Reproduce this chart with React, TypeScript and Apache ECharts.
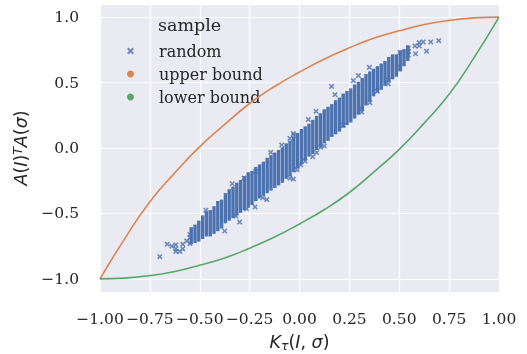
import React, { useEffect, useRef } from "react";
import * as echarts from "echarts";

// Column strips of the "random" sample (Kendall tau value, min and max of A(I)^T A(sigma))
const colT = [
  -0.5429, -0.5238, -0.5048, -0.4857, -0.4667, -0.4476, -0.4286, -0.4095, -0.3905, -0.3714,
  -0.3524, -0.3333, -0.3143, -0.2952, -0.2762, -0.2571, -0.2381, -0.219, -0.2, -0.181,
  -0.1619, -0.1429, -0.1238, -0.1048, -0.0857, -0.0667, -0.0476, -0.0286, -0.0095, 0.0095,
  0.0286, 0.0476, 0.0667, 0.0857, 0.1048, 0.1238, 0.1429, 0.1619, 0.181, 0.2,
  0.219, 0.2381, 0.2571, 0.2762, 0.2952, 0.3143, 0.3333, 0.3524, 0.3714, 0.3905,
  0.4095, 0.4286, 0.4476, 0.4667, 0.4857, 0.5048, 0.5238, 0.5429,
];
const colLow = [
  -0.72, -0.71, -0.7, -0.68, -0.66, -0.66, -0.64, -0.62, -0.6, -0.56,
  -0.54, -0.52, -0.5, -0.48, -0.46, -0.44, -0.42, -0.39, -0.37, -0.35,
  -0.33, -0.31, -0.29, -0.27, -0.25, -0.22, -0.2, -0.17, -0.14, -0.11,
  -0.08, -0.05, -0.03, 0.0, 0.02, 0.05, 0.07, 0.1, 0.12, 0.14,
  0.17, 0.19, 0.21, 0.24, 0.27, 0.3, 0.34, 0.37, 0.41, 0.44,
  0.46, 0.49, 0.52, 0.54, 0.56, 0.6, 0.64, 0.68,
];
const colHigh = [
  -0.62, -0.6, -0.57, -0.53, -0.5, -0.49, -0.46, -0.42, -0.41, -0.36,
  -0.33, -0.31, -0.28, -0.26, -0.23, -0.2, -0.19, -0.16, -0.14, -0.12,
  -0.09, -0.07, -0.05, -0.03, -0.01, 0.02, 0.04, 0.07, 0.1, 0.13,
  0.15, 0.17, 0.2, 0.23, 0.25, 0.28, 0.3, 0.32, 0.35, 0.37,
  0.4, 0.42, 0.44, 0.47, 0.49, 0.52, 0.55, 0.57, 0.59, 0.61,
  0.63, 0.65, 0.68, 0.7, 0.7, 0.73, 0.74, 0.77,
];

// Isolated sample points
const outX = [
  -0.7, -0.663, -0.64, -0.62, -0.62, -0.62, -0.6, -0.585, -0.585, -0.565, -0.549, -0.549, -0.549,
  -0.469, -0.375, -0.3, -0.337, -0.278, -0.22, -0.144, -0.089, -0.048, -0.028,
  -0.265, -0.223, -0.184, -0.164, -0.048, -0.031, -0.011, -0.318,
  0.161, 0.178, 0.083, 0.044, -0.031, 0.295, 0.27,
  0.006, 0.028, 0.066, 0.086, 0.106, 0.124, 0.22, 0.312, 0.312, 0.353,
  0.39, 0.445, 0.445, 0.504, 0.35, 0.504, 0.545, 0.545, 0.545,
  0.579, 0.6, 0.6, 0.62, 0.658, 0.698, 0.637, 0.582,
];
const outY = [
  -0.83, -0.735, -0.75, -0.74, -0.77, -0.79, -0.79, -0.735, -0.77, -0.71, -0.66, -0.685, -0.73,
  -0.475, -0.634, -0.566, -0.273, -0.23, -0.18, -0.033, 0.023, 0.073, 0.098,
  -0.465, -0.45, -0.38, -0.394, -0.23, -0.237, -0.167, -0.52,
  0.47, 0.407, 0.28, 0.217, 0.11, 0.553, 0.515,
  -0.129, -0.1, -0.066, -0.035, 0.005, 0.015, 0.174, 0.275, 0.3, 0.346,
  0.434, 0.49, 0.52, 0.616, 0.616, 0.73, 0.76, 0.74, 0.71,
  0.78, 0.805, 0.78, 0.81, 0.81, 0.82, 0.74, 0.72,
];

// Bound curves
const boundT = [-1, -0.875, -0.75, -0.625, -0.5, -0.375, -0.25, -0.125, 0, 0.125, 0.25, 0.375, 0.5, 0.625, 0.75, 0.875, 1];
const upperY = [-1, -0.69, -0.41, -0.19, 0.01, 0.18, 0.34, 0.47, 0.58, 0.68, 0.765, 0.84, 0.895, 0.943, 0.975, 0.994, 1];
const lowerY = [-1, -0.994, -0.975, -0.943, -0.895, -0.84, -0.765, -0.68, -0.58, -0.47, -0.34, -0.18, -0.01, 0.19, 0.41, 0.69, 1];

const legendTitle = "sample";
const legendNames = ["random", "upper bound", "lower bound"];

const BLUE = "#4C72B0";
const ORANGE = "#DD8452";
const GREEN = "#55A868";
const INK = "#262626";
const X_PATH = "path://M2,0 L5,3 L8,0 L10,2 L7,5 L10,8 L8,10 L5,7 L2,10 L0,8 L3,5 L0,2 Z";

const fmt = (v: number, d: number) => {
  const s = Math.abs(v).toFixed(d);
  return v < -1e-9 ? "\u2212" + s : s;
};

export default function App() {
  const ref = useRef<HTMLDivElement>(null);
  useEffect(() => {
    if (!ref.current) return;
    const chart = echarts.init(ref.current, null, { renderer: "svg" });
    const mathRich = {
      i: { fontFamily: "DejaVu Sans", fontStyle: "italic", fontSize: 17.5, color: INK, lineHeight: 20 },
      n: { fontFamily: "DejaVu Sans", fontSize: 17.5, color: INK, lineHeight: 20 },
      sup: { fontFamily: "DejaVu Sans", fontStyle: "italic", fontSize: 12.5, color: INK, verticalAlign: "top", lineHeight: 20 },
      sub: { fontFamily: "DejaVu Sans", fontStyle: "italic", fontSize: 12.5, color: INK, verticalAlign: "bottom", lineHeight: 18 },
    };
    chart.setOption({
      animation: false,
      title: {
        text: legendTitle,
        left: 153,
        top: 11,
        textStyle: { fontFamily: "DejaVu Serif", fontSize: 17.5, fontWeight: "normal", color: INK },
      },
      legend: {
        orient: "vertical",
        left: 122,
        top: 38,
        itemWidth: 7,
        itemHeight: 7,
        itemGap: 7,
        data: [
          { name: legendNames[0], icon: X_PATH, itemStyle: { color: BLUE, borderWidth: 0 } },
          { name: legendNames[1], icon: "circle", itemStyle: { color: ORANGE, borderWidth: 0 } },
          { name: legendNames[2], icon: "circle", itemStyle: { color: GREEN, borderWidth: 0 } },
        ],
        textStyle: { fontFamily: "DejaVu Serif", fontSize: 16, color: INK, padding: [0, 0, 0, 20] },
      },
      grid: {
        left: 100,
        top: 4,
        width: 399,
        height: 288,
        show: true,
        backgroundColor: "#EAEAF2",
        borderWidth: 0,
        containLabel: false,
        outerBoundsMode: "none",
      },
      xAxis: {
        type: "value",
        min: -1,
        max: 1,
        interval: 0.25,
        axisLine: { show: false },
        axisTick: { show: false },
        splitLine: { lineStyle: { color: "#ffffff", width: 1.2 } },
        axisLabel: {
          margin: 19,
          fontFamily: "DejaVu Serif",
          fontSize: 15.5,
          color: INK,
          formatter: (v: number) => fmt(v, 2),
        },
        name: "{i|K}{sub|τ}{n|(}{i|I}{n|, }{i|σ}{n|)}",
        nameLocation: "middle",
        nameGap: 40,
        nameTextStyle: { rich: mathRich },
      },
      yAxis: {
        type: "value",
        min: -1.1,
        max: 1.1,
        splitNumber: 4,
        axisLine: { show: false },
        axisTick: { show: false },
        splitLine: { lineStyle: { color: "#ffffff", width: 1.2 } },
        axisLabel: {
          margin: 21,
          showMinLabel: false,
          showMaxLabel: false,
          fontFamily: "DejaVu Serif",
          fontSize: 15.5,
          color: INK,
          formatter: (v: number) => (Math.abs(v) > 1.05 ? "" : fmt(v, 1)),
        },
        name: "{i|A}{n|(}{i|I}{n|)}{sup|T}{i|A}{n|(}{i|σ}{n|)}",
        nameLocation: "middle",
        nameGap: 66,
        nameRotate: 90,
        nameTextStyle: { rich: mathRich },
      },
      series: [
        {
          name: "random columns",
          type: "custom",
          data: colT.map((t, i) => [t, colLow[i], colHigh[i]]),
          encode: { x: 0, y: [1, 2] },
          renderItem: (_p: any, api: any) => {
            const x = api.value(0);
            const top = api.coord([x, api.value(2)]);
            const bot = api.coord([x, api.value(1)]);
            return {
              type: "rect",
              shape: { x: top[0] - 1.7, y: top[1] - 2, width: 3.4, height: bot[1] - top[1] + 4 },
              style: { fill: BLUE },
            };
          },
          z: 2,
        },
        {
          name: legendNames[0],
          type: "scatter",
          data: outX.map((x, i) => [x, outY[i]]),
          symbol: X_PATH,
          symbolSize: 5.5,
          itemStyle: { color: BLUE, borderWidth: 0 },
          z: 3,
        },
        {
          name: legendNames[1],
          type: "line",
          data: boundT.map((t, i) => [t, upperY[i]]),
          smooth: 0.5,
          showSymbol: false,
          symbol: "none",
          color: ORANGE,
          lineStyle: { color: ORANGE, width: 1.6 },
          z: 4,
        },
        {
          name: legendNames[2],
          type: "line",
          data: boundT.map((t, i) => [t, lowerY[i]]),
          smooth: 0.5,
          showSymbol: false,
          symbol: "none",
          color: GREEN,
          lineStyle: { color: GREEN, width: 1.6 },
          z: 4,
        },
      ],
    });
    return () => chart.dispose();
  }, []);
  return (
    <div
      ref={ref}
      style={{ position: "fixed", left: 0, top: 0, width: 527, height: 354 }}
    />
  );
}
